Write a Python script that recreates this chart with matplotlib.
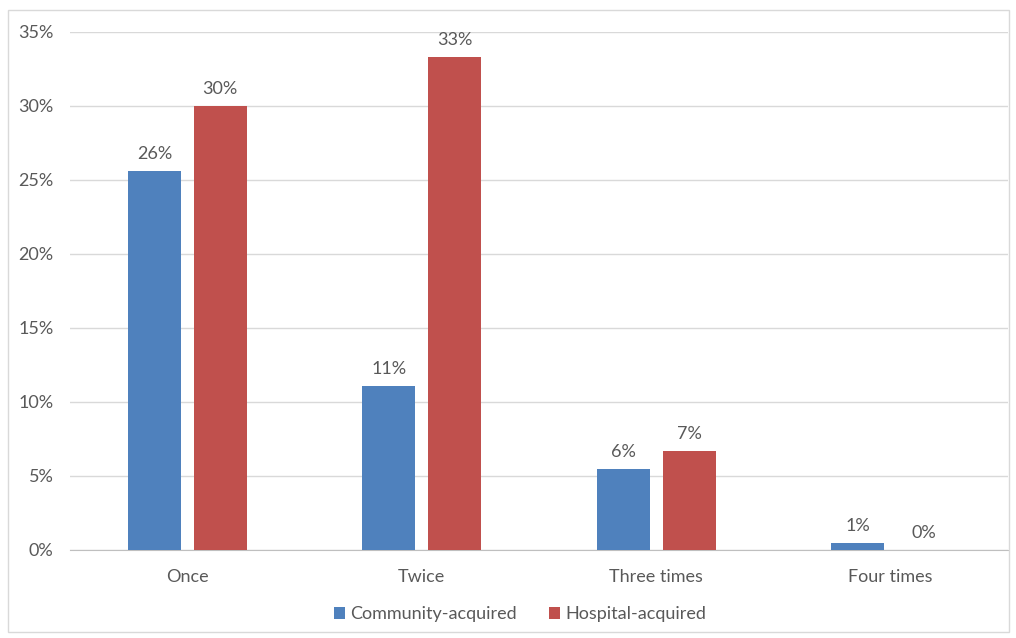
import numpy as np
import matplotlib.pyplot as plt
from matplotlib.patches import Rectangle
from matplotlib.ticker import FuncFormatter

categories = ['Once', 'Twice', 'Three times', 'Four times']
community = [25.6, 11.1, 5.5, 0.5]
hospital = [30.0, 33.3, 6.7, 0.0]
community_labels = ['26%', '11%', '6%', '1%']
hospital_labels = ['30%', '33%', '7%', '0%']

plt.rcParams['font.family'] = ['Lato', 'DejaVu Sans']
text_color = '#595959'
fs = 13

fig = plt.figure(figsize=(10.16, 6.38), dpi=100)
ax = fig.add_axes([0.069, 0.138, 0.923, 0.812])

x = np.arange(len(categories))
w = 0.226
off = 0.14
b1 = ax.bar(x - off, community, w, color='#4F81BD', label='Community-acquired', zorder=3)
b2 = ax.bar(x + off, hospital, w, color='#C0504D', label='Hospital-acquired', zorder=3)

for bars, labels in [(b1, community_labels), (b2, hospital_labels)]:
    for bar, lab in zip(bars, labels):
        ax.text(bar.get_x() + bar.get_width() / 2, bar.get_height() + 0.6, lab,
                ha='center', va='bottom', fontsize=fs, color=text_color)

ax.set_xlim(-0.5, len(categories) - 0.5)
ax.set_ylim(0, 35)
ax.set_yticks(np.arange(0, 36, 5))
ax.yaxis.set_major_formatter(FuncFormatter(lambda v, p: f'{v:.0f}%'))
ax.set_xticks(x)
ax.set_xticklabels(categories)
ax.tick_params(axis='both', length=0, labelsize=fs, colors=text_color)
ax.tick_params(axis='y', pad=12)
ax.tick_params(axis='x', pad=14)
ax.grid(axis='y', color='#D9D9D9', linewidth=1, zorder=0)
for s in ['top', 'right', 'left']:
    ax.spines[s].set_visible(False)
ax.spines['bottom'].set_color('#BFBFBF')

fig.legend(loc='center', bbox_to_anchor=(0.512, 0.037), ncol=2, frameon=False,
           fontsize=fs, handlelength=0.6, handleheight=0.6, columnspacing=1.8,
           handletextpad=0.3, labelcolor=text_color)

fig.patches.append(Rectangle((0.008, 0.01), 0.985, 0.975, transform=fig.transFigure,
                             fill=False, edgecolor='#D9D9D9', linewidth=1))

fig.savefig('out.png', dpi=100)
